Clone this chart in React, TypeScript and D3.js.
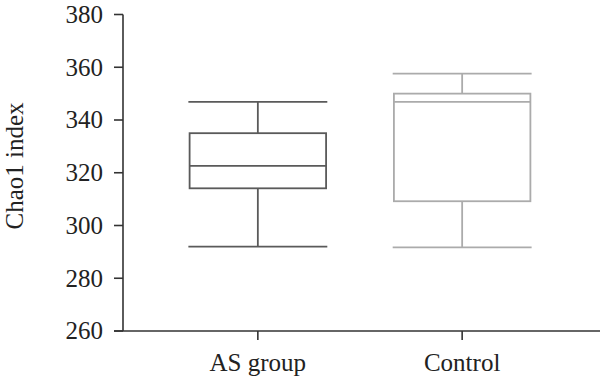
import React from "react";
import * as d3 from "d3";

const categories = ["AS group", "Control"];
const whiskerLow = [292, 291.7];
const q1 = [314.1, 309.2];
const median = [322.6, 346.9];
const q3 = [335, 350];
const whiskerHigh = [346.9, 357.6];
const boxColors = ["#5a5a5a", "#ababab"];
const yTicks = [260, 280, 300, 320, 340, 360, 380];
const yLabel = "Chao1 index";

export default function App() {
  const W = 600, H = 381;
  const x0 = 123, x1 = 600, yTop = 14.5, yBot = 331;
  const y = d3.scaleLinear().domain([260, 380]).range([yBot, yTop]);
  const x = d3.scalePoint<string>().domain(categories).range([x0, 597]).padding(0.66);
  const step = x.step();
  const boxW = step * 0.668;
  const capW = step * 0.34;
  const textStyle: React.CSSProperties = { fontFamily: "Liberation Serif, DejaVu Serif, serif", fontSize: 25 };
  const axisColor = "#333";
  return (
    <svg width={W} height={H} style={{ position: "absolute", left: 0, top: 0 }}>
      <rect width={W} height={H} fill="#fff" />
      {/* y axis */}
      <line x1={x0} x2={x0} y1={yTop} y2={yBot} stroke={axisColor} strokeWidth={1.6} />
      {yTicks.map((t) => (
        <g key={t}>
          <line x1={x0 - 9} x2={x0} y1={y(t)} y2={y(t)} stroke={axisColor} strokeWidth={1.6} />
          <text x={103} y={y(t)} dy="0.33em" textAnchor="end" style={textStyle} fill="#222">
            {t}
          </text>
        </g>
      ))}
      <text transform={`translate(23, 166) rotate(-90)`} textAnchor="middle" style={textStyle} fill="#222">
        {yLabel}
      </text>
      {/* x axis */}
      <line x1={x0 - 9} x2={x1} y1={yBot} y2={yBot} stroke={axisColor} strokeWidth={1.6} />
      {categories.map((c) => (
        <g key={c}>
          <line x1={x(c)!} x2={x(c)!} y1={yBot} y2={yBot + 9} stroke={axisColor} strokeWidth={1.6} />
          <text x={x(c)!} y={371} textAnchor="middle" style={textStyle} fill="#222">
            {c}
          </text>
        </g>
      ))}
      {/* boxes */}
      {categories.map((c, i) => {
        const cx = x(c)!;
        const col = boxColors[i];
        return (
          <g key={c} stroke={col} strokeWidth={1.8} fill="none">
            <line x1={cx} x2={cx} y1={y(whiskerHigh[i])} y2={y(q3[i])} />
            <line x1={cx} x2={cx} y1={y(q1[i])} y2={y(whiskerLow[i])} />
            <line x1={cx - capW} x2={cx + capW} y1={y(whiskerHigh[i])} y2={y(whiskerHigh[i])} />
            <line x1={cx - capW} x2={cx + capW} y1={y(whiskerLow[i])} y2={y(whiskerLow[i])} />
            <rect x={cx - boxW / 2} y={y(q3[i])} width={boxW} height={y(q1[i]) - y(q3[i])} />
            <line x1={cx - boxW / 2} x2={cx + boxW / 2} y1={y(median[i])} y2={y(median[i])} />
          </g>
        );
      })}
    </svg>
  );
}
